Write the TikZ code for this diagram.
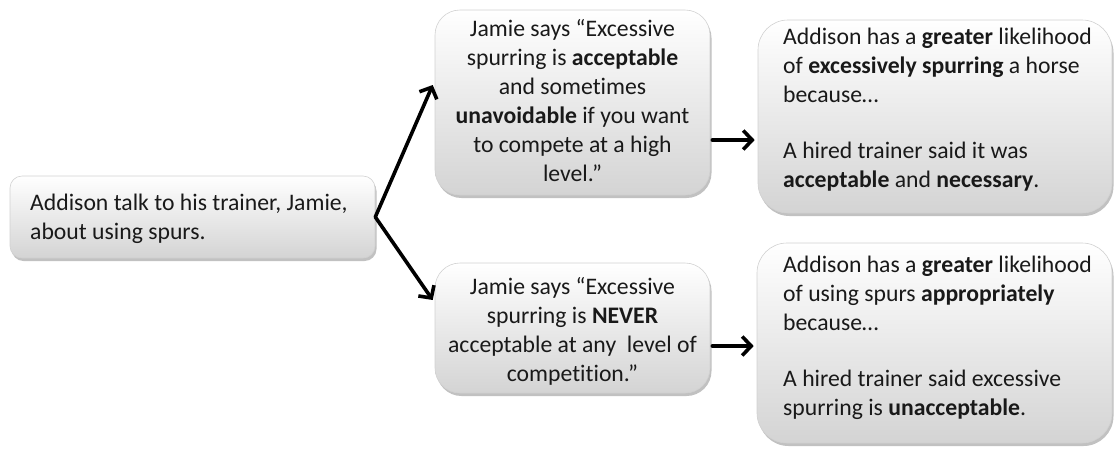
\documentclass[tikz,border=0pt]{standalone}
\usepackage{fontspec}
\setmainfont{Carlito}[Ligatures=CommonOff]
\usetikzlibrary{arrows.meta,shadows,calc}
\begin{document}
\begin{tikzpicture}[x=1pt,y=-1pt,
  card/.style={rounded corners=#1, draw=black!18, line width=0.6pt,
    top color=white, bottom color=black!17, inner sep=0pt,
    drop shadow={shadow xshift=1.5pt, shadow yshift=-3pt, opacity=0.35, fill=black!70}},
  words/.style={inner sep=0pt, font=\fontsize{23.7}{29}\selectfont, text=black!90},
  arr/.style={line width=3.6pt, -{Straight Barb[length=9pt,width=19pt]}, line cap=round}]
\useasboundingbox (0,0) rectangle (1116,448);

% boxes
\node[card=12pt, minimum width=365pt, minimum height=82pt] (A) at (192.5,217) {};
\node[card=25pt, minimum width=275pt, minimum height=185pt] (B) at (572.5,102.5) {};
\node[card=25pt, minimum width=275pt, minimum height=130pt] (D) at (572.5,328) {};
\node[card=30pt, minimum width=354pt, minimum height=193pt] (C) at (935,116.5) {};
\node[card=30pt, minimum width=355pt, minimum height=200pt] (E) at (934.5,343) {};

% texts
\node[words, align=left, anchor=west] (At) at (30,219)
  {Addison talk to his trainer, Jamie,\\ about using spurs.};
\node[words, align=center] (Bt) at (B.center |- 0,101)
  {Jamie says “Excessive\\ spurring is \textbf{acceptable}\\ and sometimes\\
   \textbf{unavoidable} if you want\\ to compete at a high\\ level.”};
\node[words, align=center] (Dt) at (D.center |- 0,331)
  {Jamie says “Excessive\\ spurring is \textbf{NEVER}\\ acceptable at any\ \ level of\\ competition.”};
\node[words, align=left, anchor=west] (Ct) at (783,110)
  {Addison has a \textbf{greater} likelihood\\ of \textbf{excessively spurring} a horse\\ because…\\[27pt]
   A hired trainer said it was\\ \textbf{acceptable} and \textbf{necessary}.};
\node[words, align=left, anchor=west] (Et) at (783,338)
  {Addison has a \textbf{greater} likelihood\\ of using spurs \textbf{appropriately}\\ because…\\[27pt]
   A hired trainer said excessive\\ spurring is \textbf{unacceptable}.};

% arrow rows
\coordinate (topin) at (0,85);
\coordinate (botin) at (0,300);
\coordinate (toprow) at (0,140);
\coordinate (botrow) at (0,346);

\draw[arr] (A.east) -- ([xshift=-2pt]B.west |- topin);
\draw[arr] (A.east) -- ([xshift=-2pt]D.west |- botin);
\draw[arr] ([xshift=2pt]B.east |- toprow) -- ([xshift=-3pt]C.west |- toprow);
\draw[arr] ([xshift=2pt]D.east |- botrow) -- ([xshift=-3pt]E.west |- botrow);
\end{tikzpicture}
\end{document}
